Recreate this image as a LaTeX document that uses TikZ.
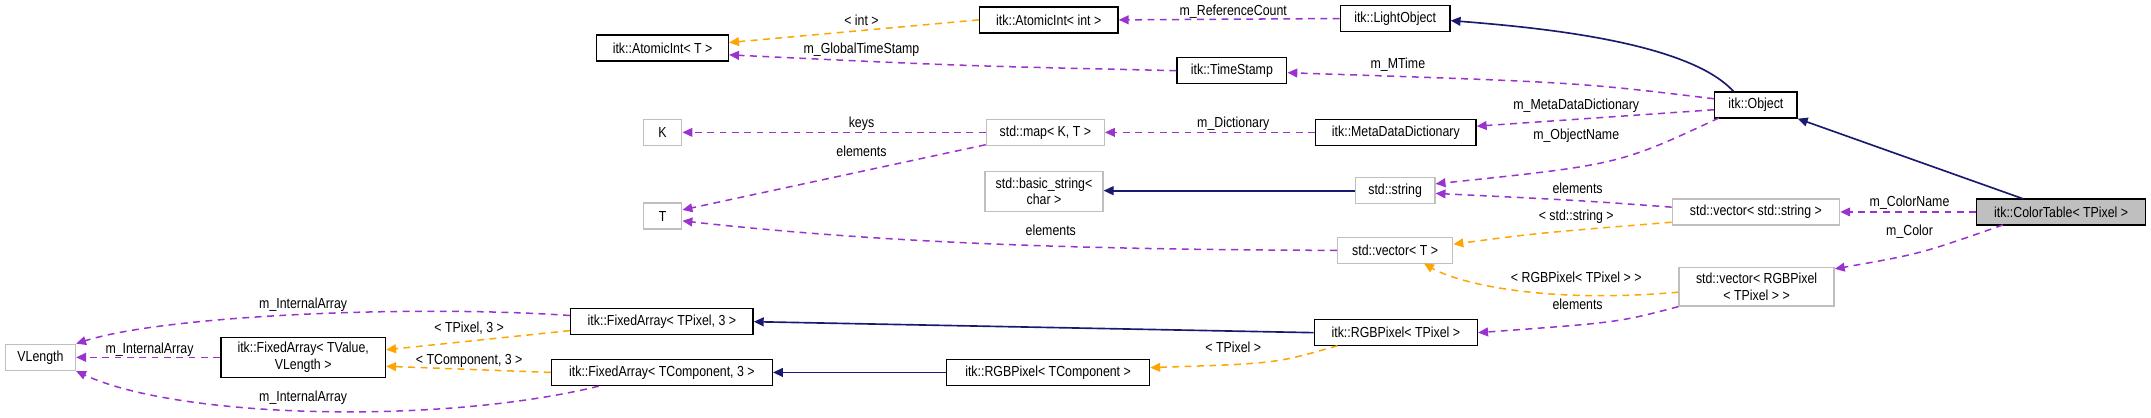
\documentclass[tikz,border=0pt]{standalone}
\usepackage{fontspec}
\setmainfont{Liberation Sans}[FakeStretch=0.85]
\usetikzlibrary{arrows.meta}
\definecolor{purp}{HTML}{9A32CD}
\definecolor{orng}{HTML}{FFA500}
\definecolor{navy}{HTML}{191970}
\definecolor{gbord}{HTML}{BFBFBF}
\definecolor{gfill}{HTML}{BFBFBF}
\begin{document}
\begin{tikzpicture}[x=0.5pt,y=-0.5pt,
  font=\fontsize{5.3}{6.1}\selectfont,
  box/.style={draw=black,line width=0.5pt,fill=white,inner sep=0pt,align=center,minimum height=9.5pt},
  ubox/.style={box,draw=gbord},
  tip/.style={-{Triangle[length=3.6pt,width=3.2pt]}},
  mem/.style={tip,draw=purp,dashed,dash pattern=on 2.5pt off 2pt,line width=0.55pt},
  tpl/.style={tip,draw=orng,dashed,dash pattern=on 2.5pt off 2pt,line width=0.55pt},
  inh/.style={tip,draw=navy,line width=0.6pt},
  lab/.style={inner sep=0.5pt,fill=none}]
\useasboundingbox (0,0) rectangle (1568,304);
% nodes
\node[box,minimum width=50.5pt] (ai) at (764.5,14.5) {itk::AtomicInt< int >};
\node[box,minimum width=40pt] (lo) at (1017,13.5) {itk::LightObject};
\node[box,minimum width=48pt] (at) at (483,35) {itk::AtomicInt< T >};
\node[box,minimum width=40pt] (ts) at (898,51.5) {itk::TimeStamp};
\node[box,minimum width=30pt] (ob) at (1280,76.5) {itk::Object};
\node[ubox,minimum width=14pt] (K) at (483,96.5) {K};
\node[ubox,minimum width=43pt] (map) at (762,96.5) {std::map< K, T >};
\node[box,minimum width=58.5pt] (md) at (1017.5,96.5) {itk::MetaDataDictionary};
\node[ubox,minimum width=43pt,minimum height=14.5pt] (bs) at (761,139.5) {std::basic\_string<\\char >};
\node[ubox,minimum width=14pt] (T) at (483,157.5) {T};
\node[ubox,minimum width=29pt] (str) at (1017,139) {std::string};
\node[ubox,minimum width=61pt] (vs) at (1280,154.5) {std::vector< std::string >};
\node[box,fill=gfill,minimum width=61.5pt] (ct) at (1502.5,154.5) {itk::ColorTable< TPixel >};
\node[ubox,minimum width=42pt] (vt) at (1017,182.5) {std::vector< T >};
\node[ubox,minimum width=56.5pt,minimum height=14pt] (vr) at (1280.5,209) {std::vector< RGBPixel\\< TPixel > >};
\node[box,minimum width=59.5pt] (rp) at (1017.5,242.5) {itk::RGBPixel< TPixel >};
\node[box,minimum width=66.5pt] (fp) at (482.5,234.5) {itk::FixedArray< TPixel, 3 >};
\node[box,minimum width=60pt,minimum height=14.5pt] (fv) at (221,260.5) {itk::FixedArray< TValue,\\VLength >};
\node[ubox,minimum width=25.5pt] (vl) at (29.5,260.5) {VLength};
\node[box,minimum width=80.5pt] (fc) at (482.5,271.5) {itk::FixedArray< TComponent, 3 >};
\node[box,minimum width=74pt] (rc) at (764,271.5) {itk::RGBPixel< TComponent >};
% edges
\draw[tpl] (ai.west) -- (at.east |- 0,31);
\node[lab] at (628,14.5) {< int >};
\draw[mem] (lo.west) -- (ai.east);
\node[lab] at (899,8.5) {m\_ReferenceCount};
\draw[mem] (ts.west) .. controls (700,48) .. (at.east |- 0,40);
\node[lab] at (628,36) {m\_GlobalTimeStamp};
\draw[inh] (ob.north west) ++(14,0) coordinate (obt) .. controls (1230,30) and (1120,20) .. (lo.east |- 0,15);
\draw[mem] (ob.west |- 0,72) .. controls (1150,60) .. (ts.east |- 0,53);
\node[lab] at (1019,47) {m\_MTime};
\draw[mem] (ob.west |- 0,80) -- (md.east |- 0,92);
\node[lab] at (1149,77) {m\_MetaDataDictionary};
\draw[mem] (1253,86) .. controls (1180,120) .. (str.east |- 0,134);
\node[lab] at (1149,99) {m\_ObjectName};
\draw[mem] (md.west) -- (map.east);
\node[lab] at (899,90.5) {m\_Dictionary};
\draw[mem] (map.west) -- (K.east);
\node[lab] at (628,90.5) {keys};
\draw[mem] (map.south west) ++(0,-1) coordinate (mb) -- (T.east |- 0,153);
\node[lab] at (628,110) {elements};
\draw[inh] (str.west) -- (bs.east |- str.west);
\draw[mem] (vt.west) .. controls (800,182) and (650,178) .. (T.east |- 0,161);
\node[lab] at (766,168) {elements};
\draw[mem] (vs.west |- 0,151) .. controls (1150,146) .. (str.east |- 0,141);
\node[lab] at (1150,137) {elements};
\draw[tpl] (vs.west |- 0,162) .. controls (1120,170) .. (vt.east |- 0,178);
\node[lab] at (1149,158) {< std::string >};
\draw[mem] (ct.west) -- (vs.east);
\node[lab] at (1392,148) {m\_ColorName};
\draw[mem] (1460,164) .. controls (1400,185) .. (vr.north east |- 0,196);
\node[lab] at (1392,169) {m\_Color};
\draw[inh] (1475,145) -- (ob.south east);
\draw[tpl] (vr.west |- 0,213) .. controls (1120,222) and (1060,205) .. (1038,192);
\node[lab] at (1149,202) {< RGBPixel< TPixel > >};
\draw[mem] (vr.south west) .. controls (1180,235) .. (rp.east);
\node[lab] at (1150,222) {elements};
\draw[inh] (rp.west) -- (fp.east);
\draw[inh] (rc.west) -- (fc.east);
\draw[tpl] (975,252) .. controls (930,265) .. (rc.east |- 0,268);
\node[lab] at (899,253) {< TPixel >};
\draw[mem] (fp.west |- 0,230) .. controls (300,222) and (120,230) .. (vl.north east);
\node[lab] at (221,222) {m\_InternalArray};
\draw[mem] (fv.west) -- (vl.east);
\node[lab] at (109,255) {m\_InternalArray};
\draw[mem] (fc.south west) ++(35,0) coordinate (fcb) .. controls (320,310) and (130,305) .. (vl.south east);
\node[lab] at (221,290) {m\_InternalArray};
\draw[tpl] (fp.west |- 0,241) -- (fv.east |- 0,255);
\node[lab] at (342,239) {< TPixel, 3 >};
\draw[tpl] (fc.west) -- (fv.east |- 0,267);
\node[lab] at (342,263) {< TComponent, 3 >};
\end{tikzpicture}
\end{document}
